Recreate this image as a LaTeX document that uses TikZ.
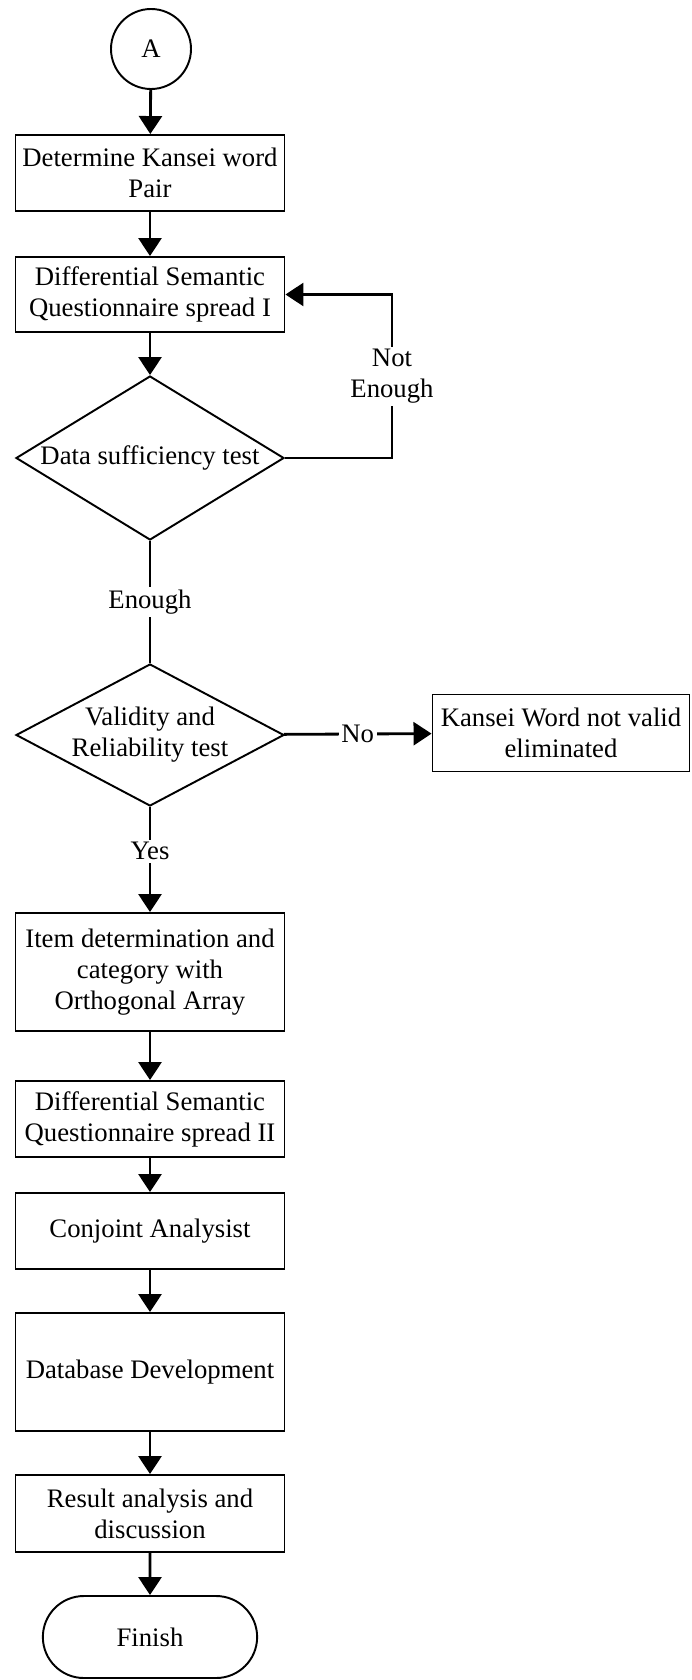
\documentclass[tikz,border=0pt]{standalone}
\usepackage{fontspec}
\setmainfont{Liberation Serif}
\usepackage{tikz}
\usetikzlibrary{shapes.geometric}
\usetikzlibrary{shapes.misc}
\usetikzlibrary{arrows.meta}
\usetikzlibrary{graphs}
\newcommand{\flowfont}{\fontsize{15.2}{17.6}\selectfont}

\begin{document}
\begin{tikzpicture}[
    >={Triangle[length=0.36cm,width=0.46cm]},
    proc/.style={draw, line width=1.1pt, minimum width=5.38cm, align=center, font=\flowfont},
    decide/.style={draw, diamond, line width=1.1pt, inner sep=0pt},
    term/.style={draw, line width=1.1pt, font=\flowfont},
    lbl/.style={fill=white, inner sep=1.5pt, align=center, font=\flowfont},
    txt/.style={align=center, font=\flowfont}
  ]
    \useasboundingbox (0,0) rectangle (13.82,-33.6);

    \node[term, circle, minimum size=1.6cm] (A) at (3.02,-0.98) {A};
    \node[proc, minimum height=1.52cm] (pair) at (3,-3.46) {Determine Kansei word\\Pair};
    \node[proc, minimum height=1.5cm] (spreadI) at (3,-5.89) {Differential Semantic\\Questionnaire spread I};
    \node[decide, minimum width=5.36cm, minimum height=3.28cm,
      label={[txt]center:Data sufficiency test}] (suff) at (3,-9.16) {};
    \node[decide, minimum width=5.36cm, minimum height=2.84cm,
      label={[txt]center:Validity and\\Reliability test}] (valid) at (3,-14.7) {};
    \node[proc, minimum width=5.14cm, minimum height=1.54cm] (elim) at (11.22,-14.66) {Kansei Word not valid\\eliminated};
    \node[proc, minimum height=2.36cm] (item) at (3,-19.44) {Item determination and\\category with\\Orthogonal Array};
    \node[proc, minimum height=1.52cm] (spreadII) at (3,-22.38) {Differential Semantic\\Questionnaire spread II};
    \node[proc, minimum height=1.52cm] (conj) at (3,-24.62) {Conjoint Analysist};
    \node[proc, minimum height=2.36cm] (dbase) at (3,-27.44) {Database Development};
    \node[proc, minimum height=1.54cm] (result) at (3,-30.27) {Result analysis and\\discussion};
    \node[term, rounded rectangle, minimum width=4.52cm, minimum height=1.64cm] (finish) at (3,-32.74) {Finish};

    \coordinate (back) at (7.84,-5.89);

    \graph [use existing nodes, edges={line width=1.6pt}]
    {
      A -> pair -> spreadI -> suff
        --[edge node={node[lbl]{Enough}}] valid
        ->[edge node={node[lbl, pos=0.42]{Yes}}] item
        -> spreadII -> conj -> dbase -> result -> finish;
      valid ->[edge node={node[lbl]{No}}] elim;
    };

    \draw[->, line width=1.6pt] (suff.east) -- (suff.east -| back)
      -- node[lbl]{Not\\Enough} (back) -- (spreadI.east);
  \end{tikzpicture}
\end{document}
